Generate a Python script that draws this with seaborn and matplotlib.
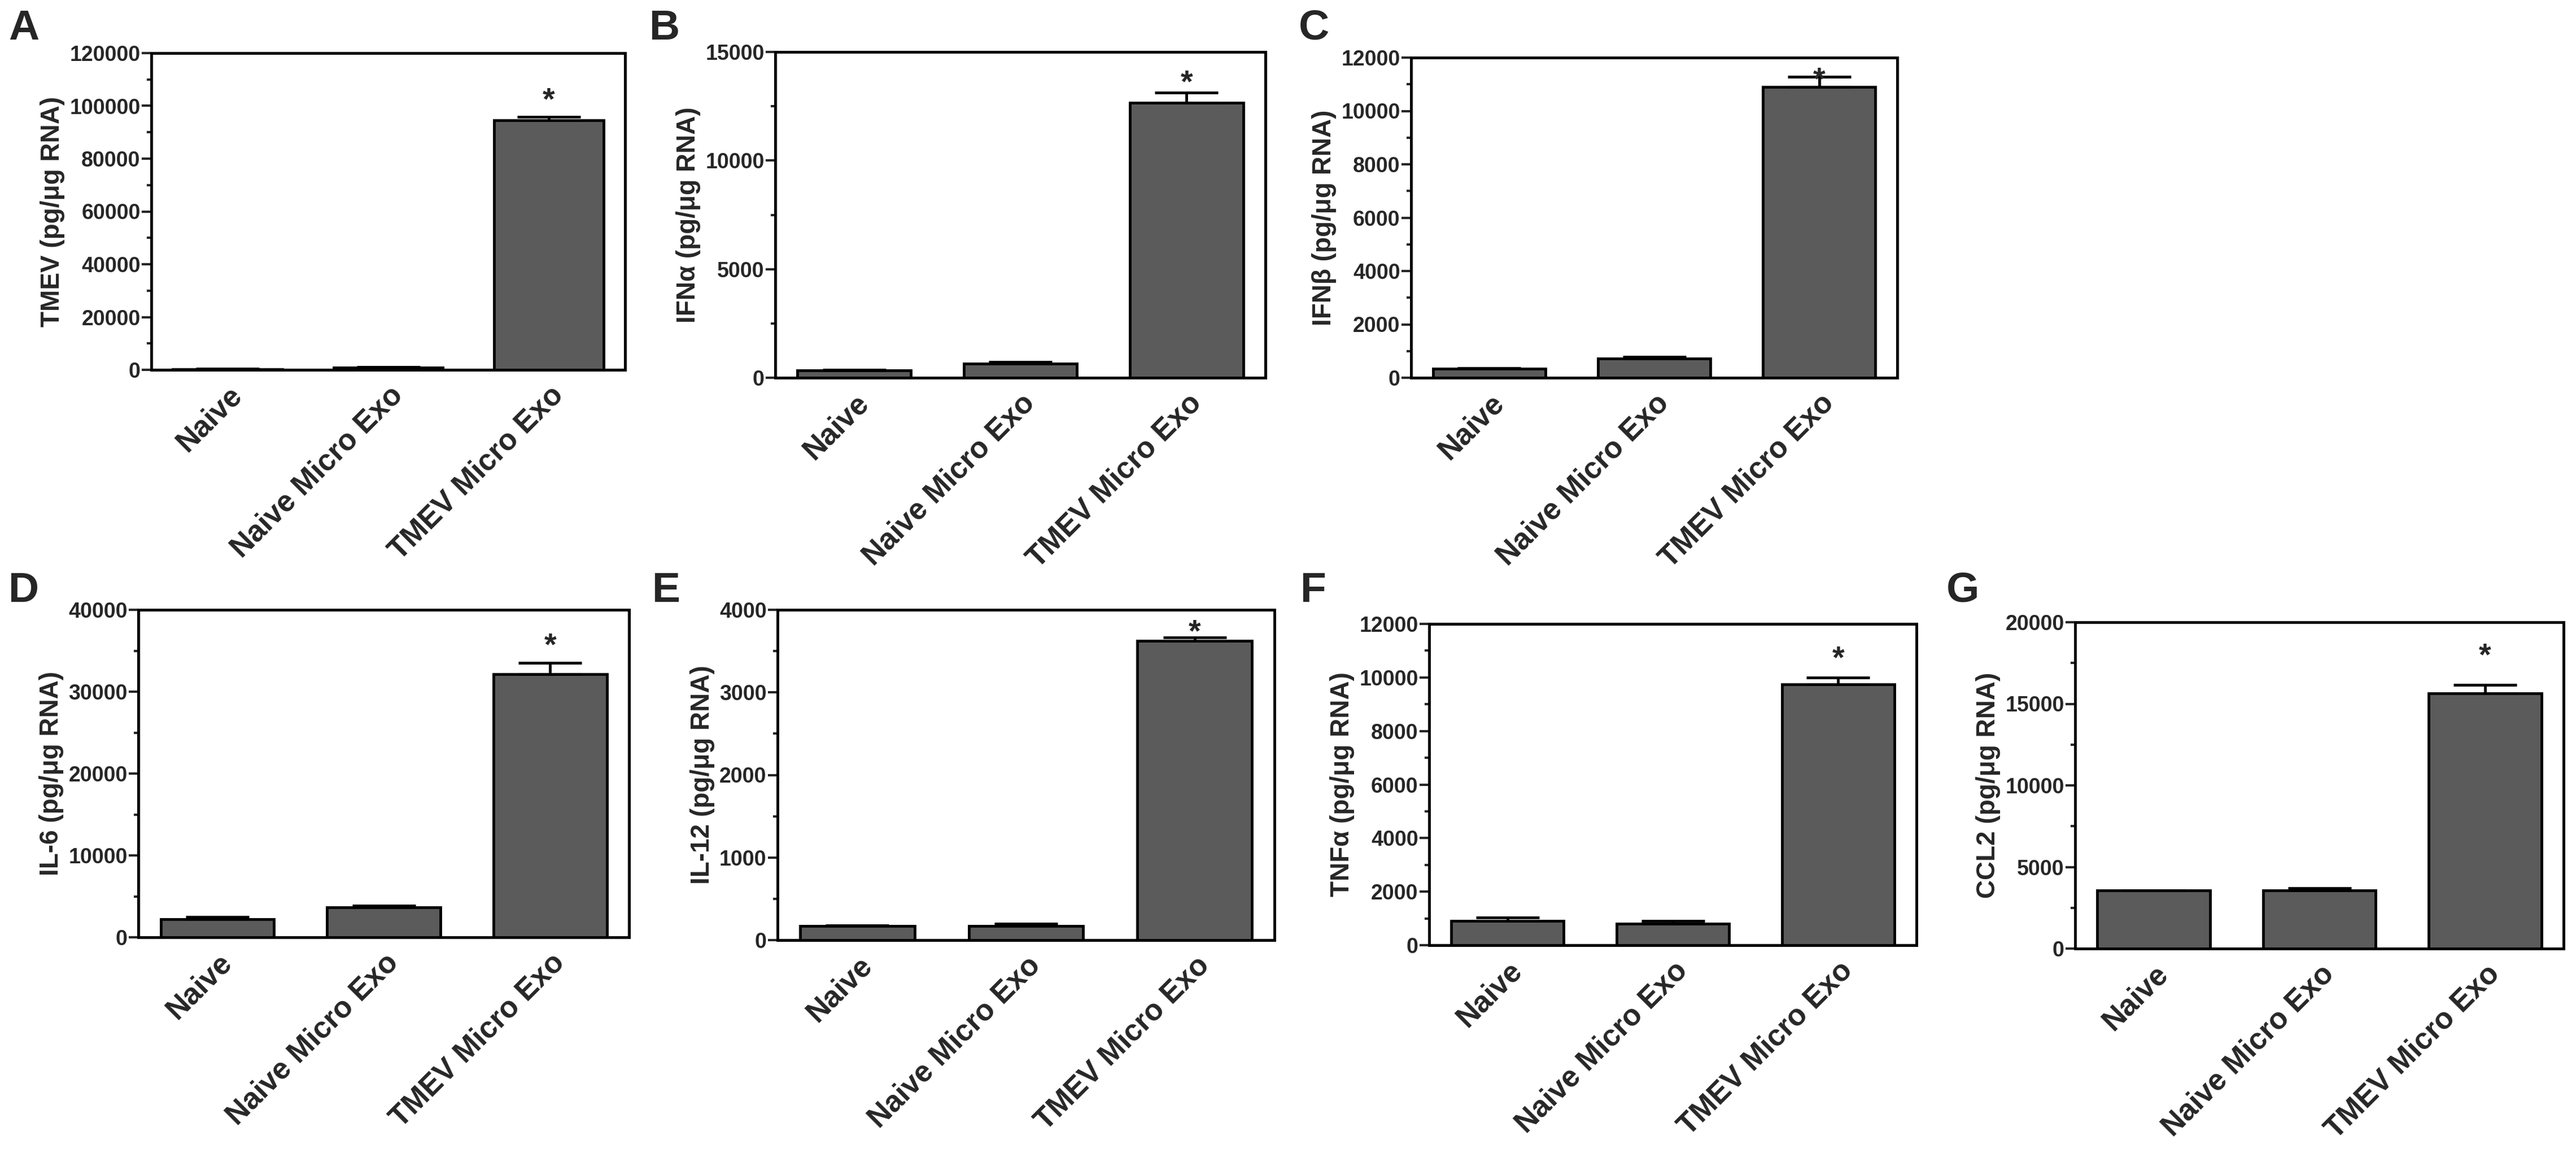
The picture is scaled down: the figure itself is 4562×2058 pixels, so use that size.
import numpy as np
import pandas as pd
import matplotlib.pyplot as plt
import seaborn as sns
from matplotlib.ticker import AutoMinorLocator

# groups on the x axis
groups = ["Naive", "Naive Micro Exo", "TMEV Micro Exo"]

# panel letters and y labels
panels = ["A", "B", "C", "D", "E", "F", "G"]
ylabels = ["TMEV (pg/\u03bcg RNA)", "IFN\u03b1 (pg/\u03bcg RNA)", "IFN\u03b2 (pg/\u03bcg RNA)",
           "IL-6 (pg/\u03bcg RNA)", "IL-12 (pg/\u03bcg RNA)", "TNF\u03b1 (pg/\u03bcg RNA)",
           "CCL2 (pg/\u03bcg RNA)"]

# bar heights (pg/ug RNA)
tmev_vals = [300, 900, 94500]
ifna_vals = [330, 640, 12660]
ifnb_vals = [330, 710, 10910]
il6_vals = [2230, 3630, 32140]
il12_vals = [171, 171, 3622]
tnfa_vals = [897, 797, 9751]
ccl2_vals = [3550, 3580, 15650]

# upper error bars
tmev_err = [60, 120, 1300]
ifna_err = [40, 90, 460]
ifnb_err = [30, 80, 380]
il6_err = [240, 230, 1350]
il12_err = [10, 27, 46]
tnfa_err = [140, 100, 256]
ccl2_err = [30, 110, 500]

# height of the significance star over TMEV Micro Exo
star_y = [105400, 13970, 11480, 36650, 3830, 11010, 18470]

# y axis ranges and major ticks
ymax = [120000, 15000, 12000, 40000, 4000, 12000, 20000]
ystep = [20000, 5000, 2000, 10000, 1000, 2000, 5000]

values = [tmev_vals, ifna_vals, ifnb_vals, il6_vals, il12_vals, tnfa_vals, ccl2_vals]
errors = [tmev_err, ifna_err, ifnb_err, il6_err, il12_err, tnfa_err, ccl2_err]

sns.set_style("ticks")
plt.rcParams["font.family"] = ["Liberation Sans", "DejaVu Sans"]
plt.rcParams["font.weight"] = "bold"

W, H = 4562, 2058
fig = plt.figure(figsize=(W / 100, H / 100), dpi=100)

# axes boxes in pixels: left, right, top, bottom
boxes = [(268, 1107, 94, 655), (1373, 2241, 92, 669), (2499, 3360, 102, 669),
         (245, 1114, 1080, 1660), (1377, 2257, 1080, 1665), (2531, 3394, 1105, 1674),
         (3675, 4540, 1102, 1680)]
letter_pos = [(15, 70), (1150, 70), (2300, 70), (15, 1066), (1155, 1066), (2303, 1066), (3447, 1066)]

for i in range(7):
    l, r, t, b = boxes[i]
    ax = fig.add_axes([l / W, 1 - b / H, (r - l) / W, (b - t) / H])
    df = pd.DataFrame({"group": groups, "value": values[i]})
    sns.barplot(data=df, x="group", y="value", ax=ax, color="#5b5b5b", saturation=1,
                edgecolor="black", linewidth=3.5, width=0.68)
    pos = np.arange(len(groups))
    ax.errorbar(pos, values[i], yerr=[np.zeros(3), errors[i]], fmt="none",
                ecolor="black", elinewidth=3.5, capsize=40, capthick=3.5, zorder=3)
    ax.annotate("*", xy=(pos[2], star_y[i]), xytext=(0, -22), textcoords="offset points",
                ha="center", va="baseline", fontsize=40, fontweight="bold")

    ax.set_ylim(0, ymax[i])
    ticks = np.arange(0, ymax[i] + 1, ystep[i])
    ax.set_yticks(ticks)
    ax.set_yticklabels([str(int(v)) for v in ticks], fontsize=27, fontweight="bold")
    ax.yaxis.set_minor_locator(AutoMinorLocator(2))
    ax.set_xticks(pos)
    ax.set_xticklabels(groups, rotation=45, ha="right", rotation_mode="anchor",
                       fontsize=38, fontweight="bold")
    ax.tick_params(axis="x", length=0, pad=14)
    ax.tick_params(axis="y", which="major", length=12, width=3, pad=2)
    ax.tick_params(axis="y", which="minor", length=6, width=3)
    ax.set_xlabel("")
    ax.set_ylabel(ylabels[i], fontsize=33, fontweight="bold", labelpad=6)
    for s in ax.spines.values():
        s.set_visible(True)
        s.set_linewidth(3.6)
        s.set_color("black")

    lx, ly = letter_pos[i]
    fig.text(lx / W, 1 - ly / H, panels[i], fontsize=54, fontweight="bold",
             ha="left", va="baseline")

fig.savefig("out.png", dpi=100, facecolor="white")
